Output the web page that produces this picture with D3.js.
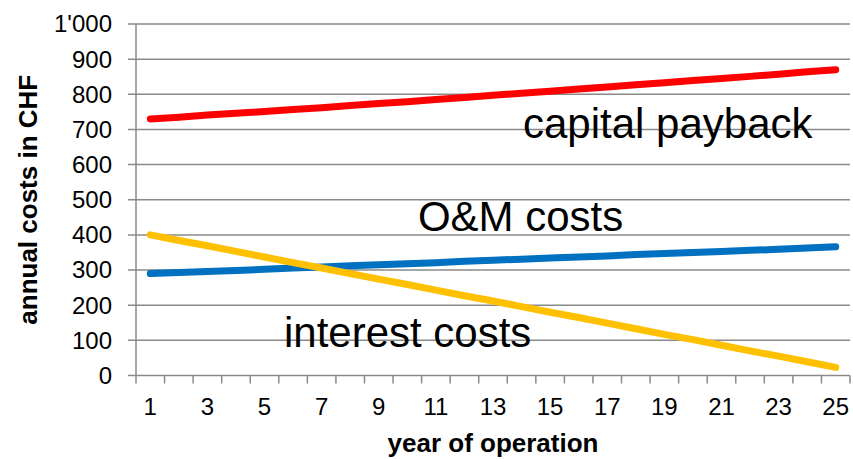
<!DOCTYPE html>
<html>
<head>
<meta charset="utf-8">
<script src="https://cdn.jsdelivr.net/npm/d3@7"></script>
<style>
	body { margin: 0; background: #fff; }
	svg { display: block; font-family: "Liberation Sans", Arial, sans-serif; }
</style>
</head>
<body>
<div id="chart"></div>
<script>
const width = 853;
const height = 459;

// data
const years = d3.range(1, 26);
const capitalPayback = [730, 735, 741, 746, 751, 757, 762, 768, 774, 779, 785, 791, 797, 803, 809, 815, 821, 827, 833, 839, 845, 851, 857, 864, 870];
const omCosts = [290, 293, 296, 299, 302, 306, 309, 312, 315, 318, 321, 325, 328, 331, 334, 337, 340, 344, 347, 350, 353, 356, 359, 363, 366];
const interestCosts = [400, 384, 369, 353, 337, 321, 306, 290, 274, 259, 243, 227, 212, 196, 180, 165, 149, 133, 117, 102, 86, 70, 55, 39, 23];
const yTicks = [0, 100, 200, 300, 400, 500, 600, 700, 800, 900, 1000];

const series = [
	{ name: "capital payback", values: capitalPayback, color: "#ff0000", label: { year: 14.05, value: 677 } },
	{ name: "O&M costs", values: omCosts, color: "#0070c0", label: { year: 10.37, value: 411 } },
	{ name: "interest costs", values: interestCosts, color: "#ffc000", label: { year: 5.68, value: 81 } },
];

const margin = { top: 24, right: 3, bottom: 83.5, left: 136 };

const svg = d3
	.select("#chart")
	.append("svg")
	.attr("width", width)
	.attr("height", height);

const x = d3
	.scaleBand()
	.domain(years)
	.range([margin.left, width - margin.right])
	.padding(0);

const y = d3
	.scaleLinear()
	.domain([0, 1000])
	.range([height - margin.bottom, margin.top]);

const gridColor = "#8a8a8a";
const fmt = (v) => (v >= 1000 ? d3.format(",")(v).replace(",", "'") : String(v));

// horizontal gridlines + y ticks
svg.append("g")
	.selectAll("line")
	.data(yTicks)
	.join("line")
	.attr("x1", margin.left - 8)
	.attr("x2", width - margin.right)
	.attr("y1", (d) => y(d))
	.attr("y2", (d) => y(d))
	.attr("stroke", gridColor)
	.attr("stroke-width", 1.5);

svg.append("g")
	.selectAll("text")
	.data(yTicks)
	.join("text")
	.attr("x", 112)
	.attr("y", (d) => y(d))
	.attr("dy", "0.35em")
	.attr("text-anchor", "end")
	.attr("font-size", 24)
	.attr("fill", "#000")
	.text(fmt);

// y axis line
svg.append("line")
	.attr("x1", margin.left)
	.attr("x2", margin.left)
	.attr("y1", y(1000))
	.attr("y2", y(0))
	.attr("stroke", gridColor)
	.attr("stroke-width", 1.5);

// x tick marks at category boundaries
const boundaries = years.map((d) => x(d)).concat([width - margin.right]);
svg.append("g")
	.selectAll("line")
	.data(boundaries)
	.join("line")
	.attr("x1", (d) => d)
	.attr("x2", (d) => d)
	.attr("y1", y(0))
	.attr("y2", y(0) + 8)
	.attr("stroke", gridColor)
	.attr("stroke-width", 1.5);

svg.append("g")
	.selectAll("text")
	.data(years.filter((d) => d % 2 === 1))
	.join("text")
	.attr("x", (d) => x(d) + x.bandwidth() / 2)
	.attr("y", 415)
	.attr("text-anchor", "middle")
	.attr("font-size", 24)
	.attr("fill", "#000")
	.text((d) => d);

// lines
const line = d3
	.line()
	.x((d, i) => x(years[i]) + x.bandwidth() / 2)
	.y((d) => y(d));

svg.append("g")
	.selectAll("path")
	.data(series)
	.join("path")
	.attr("fill", "none")
	.attr("stroke", (d) => d.color)
	.attr("stroke-width", 7)
	.attr("stroke-linecap", "round")
	.attr("stroke-linejoin", "round")
	.attr("d", (d) => line(d.values));

// series labels
const xc = d3.scaleLinear().domain([0.5, 25.5]).range([margin.left, width - margin.right]);
svg.append("g")
	.selectAll("text")
	.data(series)
	.join("text")
	.attr("x", (d) => xc(d.label.year))
	.attr("y", (d) => y(d.label.value))
	.attr("font-size", 42)
	.attr("fill", "#000")
	.text((d) => d.name);

// axis titles
svg.append("text")
	.attr("x", (margin.left + width - margin.right) / 2)
	.attr("y", 452)
	.attr("text-anchor", "middle")
	.attr("font-size", 26)
	.attr("font-weight", "bold")
	.text("year of operation");

svg.append("text")
	.attr("transform", `translate(37,${(y(0) + y(1000)) / 2}) rotate(-90)`)
	.attr("text-anchor", "middle")
	.attr("font-size", 26)
	.attr("font-weight", "bold")
	.text("annual costs in CHF");
</script>
</body>
</html>
